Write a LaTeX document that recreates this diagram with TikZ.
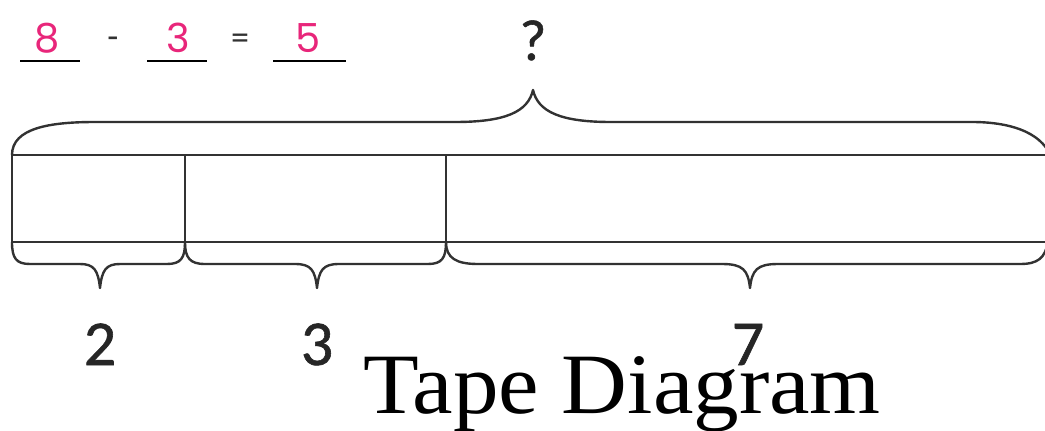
\documentclass[tikz,border=0pt]{standalone}
\usepackage{fontspec}
\setmainfont{Liberation Serif}
\newfontfamily\digitfont[FakeBold=0.9]{Carlito}
\newfontfamily\signfont{Carlito}
\newfontfamily\pinkfont{Poppins}
\definecolor{pinkink}{RGB}{232,38,122}
\definecolor{inkgray}{RGB}{50,50,50}
\begin{document}
\begin{tikzpicture}[x=1pt,y=-1pt,
  tapeline/.style={draw=inkgray,line width=2.6pt},
  braceline/.style={draw=inkgray,line width=2.4pt,line join=round},
  blankline/.style={draw=black,line width=1.3pt},
  pinkdigit/.style={text=pinkink,font=\pinkfont\fontsize{40}{40}\selectfont,anchor=base,inner sep=0pt},
  opsign/.style={text=inkgray,anchor=center,inner sep=0pt},
  partlabel/.style={text=black!85,font=\digitfont\fontsize{64}{64}\selectfont,anchor=base,inner sep=0pt},
  titlelabel/.style={text=black,font=\fontsize{86}{86}\selectfont,anchor=base west,inner sep=0pt}]
\useasboundingbox (0,0) rectangle (1045,431);
\begin{scope}
\clip (0,0) rectangle (1045,431);
% equation
\coordinate (u1a) at (20,61); \coordinate (u1b) at (80,61);
\coordinate (u2a) at (147,61); \coordinate (u2b) at (207,61);
\coordinate (u3a) at (273,61); \coordinate (u3b) at (346,61);
\draw[blankline] (u1a) -- (u1b);
\draw[blankline] (u2a) -- (u2b);
\draw[blankline] (u3a) -- (u3b);
\node[pinkdigit] (d8) at (47,52) {8};
\node[pinkdigit] (d3) at (178,52) {3};
\node[pinkdigit] (d5) at (308,52) {5};
\node[opsign,font=\signfont\fontsize{36}{36}\selectfont] (minus) at (113,43) {-};
\node[opsign,font=\signfont\fontsize{36}{36}\selectfont] (equals) at (240,42) {=};
% question mark
\node[partlabel,font=\digitfont\fontsize{58}{58}\selectfont] (q) at (533,60) {?};
% tape
\coordinate (tl) at (12,155); \coordinate (tr) at (1050,155);
\coordinate (bl) at (12,242); \coordinate (br) at (1050,242);
\coordinate (d1t) at (185,155); \coordinate (d1b) at (185,242);
\coordinate (d2t) at (446,155); \coordinate (d2b) at (446,242);
\draw[tapeline] (tl) -- (tr);
\draw[tapeline] (bl) -- (br);
\draw[tapeline] (tl) -- (bl);
\draw[tapeline] (d1t) -- (d1b);
\draw[tapeline] (d2t) -- (d2b);
% top brace
\draw[braceline] (tl) .. controls (12,128) and (50,122) .. (95,122) -- (455,122)
  .. controls (505,122) and (528,112) .. (533,90)
  .. controls (538,112) and (561,122) .. (611,122) -- (972,122)
  .. controls (1015,122) and (1045,135) .. (1052,160);
% bottom braces
\draw[braceline] (bl) .. controls (12,258) and (16,264) .. (30,264) -- (80,264)
  .. controls (94,264) and (98,270) .. (100,288)
  .. controls (102,270) and (106,264) .. (120,264) -- (167,264)
  .. controls (181,264) and (185,258) .. (d1b);
\draw[braceline] (d1b) .. controls (185,258) and (190,264) .. (205,264) -- (295,264)
  .. controls (311,264) and (315,270) .. (317,288)
  .. controls (319,270) and (323,264) .. (339,264) -- (428,264)
  .. controls (442,264) and (446,258) .. (d2b);
\draw[braceline] (d2b) .. controls (446,258) and (456,264) .. (478,264) -- (722,264)
  .. controls (743,264) and (748,270) .. (750,288)
  .. controls (752,270) and (757,264) .. (778,264) -- (1020,264)
  .. controls (1038,264) and (1045,258) .. (1048,242);
\end{scope}
% part labels
\node[partlabel] (l2) at (100,365) {2};
\node[partlabel] (l3) at (317,365) {3};
\node[partlabel] (l7) at (748,365) {7};
% title
\node[titlelabel,xscale=1.06] (title) at (363,413) {Tape Diagram};
\end{tikzpicture}
\end{document}
